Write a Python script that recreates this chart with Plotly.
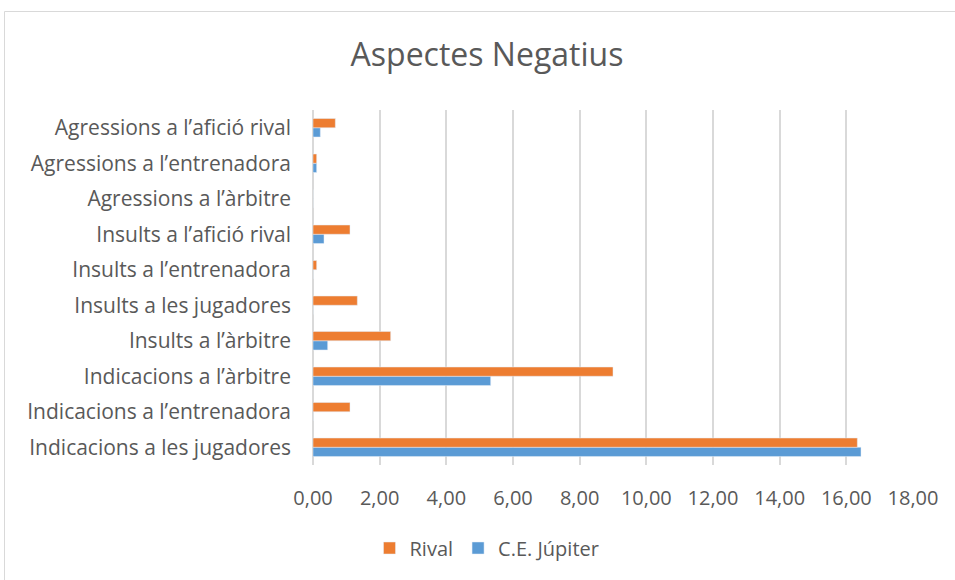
import plotly.graph_objects as go

categories = [
    "Indicacions a les jugadores",
    "Indicacions a l’entrenadora",
    "Indicacions a l’àrbitre",
    "Insults a l’àrbitre",
    "Insults a les jugadores",
    "Insults a l’entrenadora",
    "Insults a l’afició rival",
    "Agressions a l’àrbitre",
    "Agressions a l’entrenadora",
    "Agressions a l’afició rival",
]
rival = [16.33, 1.11, 9.00, 2.33, 1.33, 0.11, 1.11, 0.00, 0.11, 0.67]
jupiter = [16.44, 0.00, 5.33, 0.44, 0.00, 0.00, 0.33, 0.00, 0.11, 0.22]
x_ticks = [0, 2, 4, 6, 8, 10, 12, 14, 16, 18]
x_tick_labels = ["0,00", "2,00", "4,00", "6,00", "8,00", "10,00", "12,00", "14,00", "16,00", "18,00"]

FONT = "Open Sans"
GRAY = "#595959"

fig = go.Figure()
fig.add_trace(go.Bar(y=categories, x=jupiter, orientation="h", name="C.E. Júpiter",
                     marker=dict(color="#5B9BD5")))
fig.add_trace(go.Bar(y=categories, x=rival, orientation="h", name="Rival",
                     marker=dict(color="#ED7D31")))

W, H = 955, 580
L, R, T, B = 313, 955 - 913, 110, 580 - 465
pw, ph = W - L - R, H - T - B

def px_x(p):
    return (p - L) / pw

def px_y(p):
    return (H - B - p) / ph

fig.update_layout(
    width=W, height=H,
    margin=dict(l=L, r=R, t=T, b=B),
    paper_bgcolor="white", plot_bgcolor="white",
    barmode="group", bargap=0.48, bargroupgap=0,
    font=dict(family=FONT, color=GRAY, size=21),
    title=dict(text="Aspectes Negatius", x=487 / W, xanchor="center",
               y=1 - 55 / H, yanchor="middle", yref="container",
               font=dict(family=FONT, size=32, color=GRAY)),
    xaxis=dict(range=[0, 18], tickvals=x_ticks, ticktext=x_tick_labels,
               showgrid=True, gridcolor="#D9D9D9", gridwidth=1.5,
               zeroline=True, zerolinecolor="#D9D9D9", zerolinewidth=1.5,
               showline=False, ticks="", ticklabelstandoff=19,
               tickfont=dict(size=20, color=GRAY)),
    yaxis=dict(type="category", categoryorder="array", categoryarray=categories,
               showgrid=False, showline=False, ticks="", ticklabelstandoff=21,
               tickfont=dict(size=21, color=GRAY)),
    legend=dict(orientation="h", traceorder="reversed",
                x=px_x(487), xanchor="center", y=px_y(548), yanchor="middle",
                font=dict(size=20, color=GRAY), itemwidth=30),
    shapes=[dict(type="rect", xref="paper", yref="paper",
                 x0=px_x(4.5), x1=px_x(970), y0=px_y(600), y1=px_y(11.5),
                 line=dict(color="#D9D9D9", width=1), fillcolor="rgba(0,0,0,0)",
                 layer="below")],
)

fig.write_html("out.html", config={"displayModeBar": False},
               post_script="document.body.style.margin='0';document.body.style.overflow='hidden';")
